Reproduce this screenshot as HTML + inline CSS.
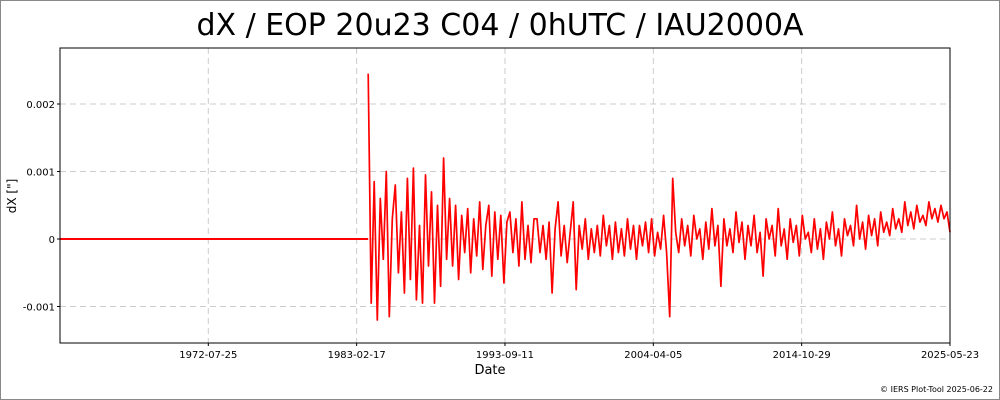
<!DOCTYPE html>
<html><head><meta charset="utf-8"><style>
body{margin:0;background:#fff;}
#wrap{position:relative;width:998px;height:398px;border:1px solid #888;font-family:"Liberation Sans","DejaVu Sans",sans-serif;}
</style></head><body>
<div id="wrap">
<svg id="chart" width="998" height="398" style="position:absolute;left:0;top:0;font-family:'DejaVu Sans','Liberation Sans',sans-serif;">
<text x="499" y="34" font-size="30" text-anchor="middle" fill="#000">dX / EOP 20u23 C04 / 0hUTC / IAU2000A</text>
<g id="grid"></g>
<g id="series"></g>
<rect x="59" y="47" width="890" height="295" fill="none" stroke="#000" stroke-width="1"/>
<g id="axes"></g>
<text x="489" y="373" font-size="13" text-anchor="middle">Date</text>
<text transform="translate(15,195) rotate(-90)" font-size="12" text-anchor="middle">dX ["]</text>
<text x="992" y="391" font-size="8" text-anchor="end">© IERS Plot-Tool 2025-06-22</text>
</svg>
</div>
<script>
const xTickLabels=["1972-07-25","1983-02-17","1993-09-11","2004-04-05","2014-10-29","2025-05-23"];
const yTickValues=[-0.001,0,0.001,0.002];
const yTickLabels=["-0.001","0","0.001","0.002"];
const flatStart="1962-01-01";
const noisyStart="1983-12-15";
const noisyEnd="2025-05-23";
const dxValues=[2.45,-0.95,0.85,-1.2,0.6,-0.3,1.0,-1.15,0.3,0.8,-0.5,0.4,-0.8,0.9,-0.6,1.05,-0.9,0.2,-0.95,0.95,-0.4,0.7,-0.95,0.5,-0.7,1.2,-0.3,0.6,
-0.4,0.5,-0.6,0.35,-0.2,0.45,-0.5,0.3,-0.25,0.55,-0.45,0.2,0.5,-0.55,0.4,-0.3,0.35,-0.65,0.25,0.4,-0.2,0.3,-0.4,0.55,-0.3,0.2,-0.35,0.3,
0.3,-0.2,0.2,-0.3,0.25,-0.8,0.15,0.55,-0.25,0.2,-0.35,0.1,0.55,-0.75,0.2,-0.15,0.3,-0.3,0.15,-0.2,0.2,-0.25,0.35,-0.1,0.2,-0.3,0.25,-0.2,0.15,-0.25,0.3,-0.15,0.2,-0.3,0.2,-0.1,0.25,-0.2,0.3,-0.25,0.1,-0.15,0.35,-0.2,
-1.15,0.9,0.1,-0.2,0.3,-0.1,0.2,-0.25,0.35,0.0,0.15,-0.3,0.25,-0.15,0.45,-0.1,0.2,-0.7,0.3,-0.1,0.15,-0.2,0.4,-0.05,0.25,-0.3,0.2,-0.1,0.35,-0.2,0.1,-0.55,0.3,0.0,0.2,-0.25,0.45,-0.1,0.15,-0.3,0.3,-0.05,0.2,-0.25,0.35,0.0,0.1,-0.2,0.3,-0.15,0.15,-0.3,0.25,0.0,0.4,-0.1,0.15,-0.25,0.3,0.05,0.2,-0.1,0.5,0.0,0.25,-0.15,0.35,0.05,0.3,-0.1,0.4,0.1,0.25,0.05,0.45,0.15,0.3,0.1,0.55,0.2,0.4,0.15,0.5,0.25,0.35,0.2,0.55,0.3,0.45,0.25,0.5,0.3,0.4,0.1];
const NS="http://www.w3.org/2000/svg";
const L=59,R=949,T=47,B=342;
const t0=Date.parse("1962-01-01"),t1=Date.parse("2025-05-23");
function xS(d){return L+(Date.parse(d)-t0)/(t1-t0)*(R-L);}
function xT(ms){return L+(ms-t0)/(t1-t0)*(R-L);}
function yS(v){return 238-v/0.001*67.5;}
function mk(tag,attrs,parent){const e=document.createElementNS(NS,tag);for(const k in attrs)e.setAttribute(k,attrs[k]);parent.appendChild(e);return e;}
const grid=document.getElementById('grid'),axes=document.getElementById('axes'),ser=document.getElementById('series');
xTickLabels.forEach(l=>{const x=xS(l);
 const g=mk('line',{x1:x,x2:x,y1:T,y2:B,stroke:'#ccc','stroke-dasharray':'6,4'},grid);
 
 
 const t=mk('text',{x:x,y:357,'font-size':10,'text-anchor':'middle'},axes);t.textContent=l;
 
 
 const tk=mk('line',{x1:x,x2:x,y1:B,y2:B+3,stroke:'#000'},axes);
 
 
});
yTickValues.forEach((v,i)=>{const y=yS(v);
 const g=mk('line',{x1:L,x2:R,y1:y,y2:y,stroke:'#ccc','stroke-dasharray':'6,4'},grid);
 
 
 const t=mk('text',{x:54,y:y+4,'font-size':10,'text-anchor':'end'},axes);t.textContent=yTickLabels[i];
 
 
 const tk=mk('line',{x1:L-3,x2:L,y1:y,y2:y,stroke:'#000'},axes);
 
 
});
const flat=mk('line',{x1:xS(flatStart),x2:xS(noisyStart),y1:yS(0),y2:yS(0),stroke:'#f00','stroke-width':2},ser);


const a=Date.parse(noisyStart),b=Date.parse(noisyEnd),n=dxValues.length;
let pts=dxValues.map((v,i)=>xT(a+(b-a)*i/(n-1)).toFixed(1)+','+yS(v*0.001).toFixed(1));
const pl=mk('polyline',{points:pts.join(' '),fill:'none',stroke:'#f00','stroke-width':1.7,'stroke-linejoin':'round'},ser);


</script>
</body></html>
